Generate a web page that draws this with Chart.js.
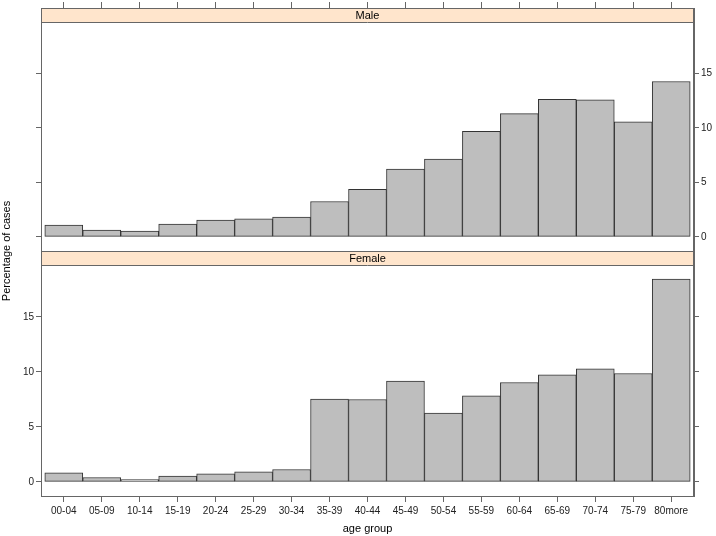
<html>
  <head>
    <script src="https://cdn.jsdelivr.net/npm/chart.js"></script>
    <style>
      body { margin: 0; background: white; }
      canvas { position: absolute; left: 0; top: 0; }
    </style>
  </head>

  <body>
    <canvas id="maleChart" width="716" height="536"></canvas>
    <canvas id="femaleChart" width="716" height="536"></canvas>
    <script>
      const ageGroups = ["00-04", "05-09", "10-14", "15-19", "20-24", "25-29", "30-34", "35-39", "40-44",
        "45-49", "50-54", "55-59", "60-64", "65-69", "70-74", "75-79", "80more"]
      const maleValues = [1.08, 0.63, 0.54, 1.17, 1.54, 1.66, 1.81, 3.25, 4.37,
        6.23, 7.14, 9.67, 11.3, 12.62, 12.56, 10.54, 14.25]
      const femaleValues = [0.82, 0.39, 0.21, 0.52, 0.73, 0.91, 1.12, 7.52, 7.48,
        9.15, 6.24, 7.82, 9.03, 9.73, 10.27, 9.85, 18.42]
      const yTicks = [0, 5, 10, 15]
      const panels = ["Male", "Female"]

      const lineCol = "#666666"
      const font = "'Liberation Sans', Arial, sans-serif"
      // strip is 14px tall = 14/11 data units above the panel's data limit
      const yMin = -1.29
      const yMax = 19.71 + 14 / 11

      Chart.defaults.font.family = font
      Chart.defaults.animation = false

      const stripPlugin = {
        id: "strip",
        afterDraw(chart, args, opts) {
          const a = chart.chartArea
          const ctx = chart.ctx
          ctx.save()
          ctx.fillStyle = "#FFE5CC"
          ctx.fillRect(a.left, a.top, a.right - a.left, 14)
          ctx.strokeStyle = lineCol
          ctx.lineWidth = 1
          ctx.beginPath()
          ctx.moveTo(a.left, a.top + 14.5)
          ctx.lineTo(a.right, a.top + 14.5)
          ctx.stroke()
          ctx.strokeRect(a.left + 0.5, a.top + 0.5, a.right - a.left - 1, a.bottom - a.top)
          ctx.fillStyle = "#000"
          ctx.font = "11px " + font
          ctx.textAlign = "center"
          ctx.textBaseline = "middle"
          ctx.fillText(opts.label, (a.left + a.right) / 2, a.top + 7.5)
          if (opts.yTitle) {
            ctx.translate(7, 251)
            ctx.rotate(-Math.PI / 2)
            ctx.fillText(opts.yTitle, 0, 0)
          }
          ctx.restore()
        }
      }

      function setTicks(values) {
        return function (scale) {
          scale.ticks = values.map(function (v) { return { value: v } })
        }
      }

      function yAxis(position, showLabels, width) {
        return {
          type: "linear",
          position: position,
          min: yMin,
          max: yMax,
          afterBuildTicks: setTicks(yTicks),
          afterFit: function (s) { s.width = width },
          grid: { drawOnChartArea: false, tickLength: 5, color: lineCol },
          border: { color: lineCol },
          ticks: { display: showLabels, padding: 2, color: "#222", font: { size: 10 } }
        }
      }

      function makeChart(id, values, idx) {
        const isTop = idx === 0
        const xAxis = {
          type: "linear",
          position: isTop ? "top" : "bottom",
          offset: false,
          min: -0.6,
          max: ageGroups.length - 0.4,
          afterBuildTicks: setTicks(ageGroups.map(function (g, i) { return i })),
          afterFit: function (s) { s.height = isTop ? 6 : 40 },
          grid: { offset: false, drawOnChartArea: false, tickLength: 6, color: lineCol },
          border: { color: lineCol },
          ticks: {
            display: !isTop,
            padding: 3,
            color: "#222",
            font: { size: 10 },
            maxRotation: 0,
            autoSkip: false,
            callback: function (v) { return ageGroups[v] }
          },
          title: { display: !isTop, text: "age group", color: "#000", font: { size: 11 }, padding: { top: 2, bottom: 0 } }
        }
        return new Chart(document.getElementById(id), {
          type: "bar",
          data: {
            datasets: [{
              label: panels[idx],
              data: values.map(function (v, i) { return { x: i, y: v } }),
              backgroundColor: "#BEBEBE",
              borderColor: "#333333",
              borderWidth: 1,
              borderSkipped: false,
              barPercentage: 1,
              categoryPercentage: 1
            }]
          },
          options: {
            responsive: false,
            layout: { padding: isTop ? { top: 0, bottom: 285, left: 0, right: 0 } : { top: 251, bottom: 0, left: 0, right: 0 } },
            plugins: {
              legend: { display: false },
              tooltip: { enabled: false },
              strip: { label: panels[idx], yTitle: isTop ? null : "Percentage of cases" }
            },
            scales: {
              x: xAxis,
              y: yAxis("left", !isTop, 41),
              y2: yAxis("right", isTop, 22)
            }
          },
          plugins: [stripPlugin]
        })
      }

      makeChart("maleChart", maleValues, 0)
      makeChart("femaleChart", femaleValues, 1)
    </script>
  </body>
</html>
